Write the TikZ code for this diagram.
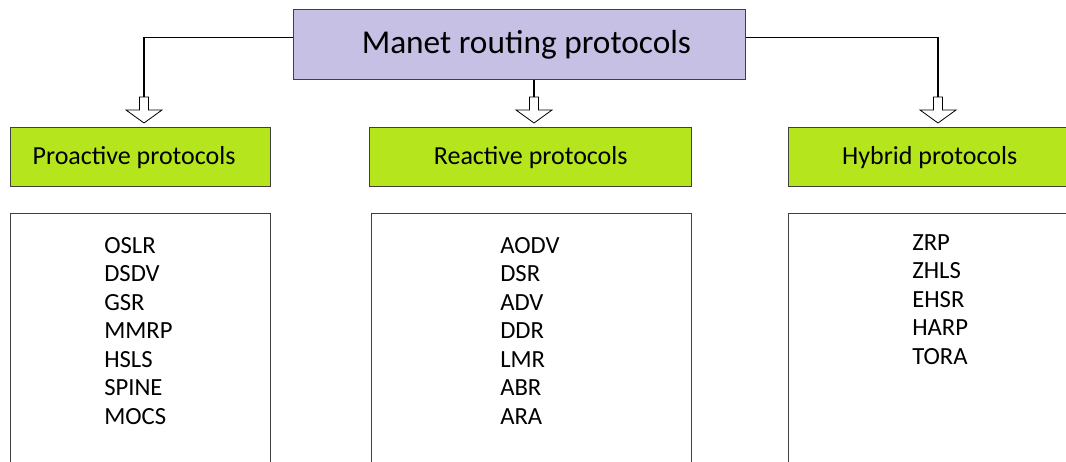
\documentclass[tikz,border=0pt]{standalone}
\usepackage{fontspec}
\setmainfont{Carlito}
\usetikzlibrary{positioning}
\definecolor{titlefill}{RGB}{198,192,228}
\definecolor{groupfill}{RGB}{181,230,29}
\definecolor{boxline}{RGB}{64,64,64}
\tikzset{
  box/.style={draw=boxline, line width=1.1pt, anchor=north west, inner sep=0pt},
  group/.style={box, fill=groupfill, minimum height=44.25pt, font=\fontsize{19.5}{22}\selectfont},
  list/.style={box, fill=white, minimum height=200pt},
  items/.style={anchor=north west, inner sep=0pt, align=left, font=\fontsize{18.5}{21.4}\selectfont},
  harrow/.pic={\draw[fill=white, line width=0.6pt] (-4.5,0) -- (4.5,0) -- (4.5,13) -- (18,13)
                -- (0,26) -- (-18,13) -- (-4.5,13) -- cycle;}
}
\begin{document}
\begin{tikzpicture}[x=0.75pt, y=-0.75pt]
  \clip (0,0) rectangle (1066,461);
  \useasboundingbox (0,0) rectangle (1066,461);
  % root
  \node[box, fill=titlefill, minimum width=339pt, minimum height=52.5pt,
        font=\fontsize{25}{28}\selectfont] (manet) at (293,9) {\hspace{10pt}Manet routing protocols};
  % groups
  \node[group, minimum width=195pt] (proactive) at (10,127) {Proactive protocols\kern10pt};
  \node[group, minimum width=241.5pt] (reactive) at (369,127) {Reactive protocols};
  \node[group, minimum width=211.5pt] (hybrid) at (788,127) {Hybrid protocols};
  % lists
  \node[list, minimum width=195pt] (prolist) at (10,213) {};
  \node[list, minimum width=240pt] (reslist) at (371,213) {};
  \node[list, minimum width=212pt] (hyblist) at (788,213) {};
  \node[items] (proitems) at (104,237) {OSLR\\DSDV\\GSR\\MMRP\\HSLS\\SPINE\\MOCS};
  \node[items] (reitems) at (500,237) {AODV\\DSR\\ADV\\DDR\\LMR\\ABR\\ARA};
  \node[items] (hyitems) at (912,234) {ZRP\\ZHLS\\EHSR\\HARP\\TORA};
  % hollow arrows
  \coordinate (parr) at (144,97);
  \coordinate (rarr) at (534,97);
  \coordinate (harr) at (938,97);
  \pic at (parr) {harrow};
  \pic at (rarr) {harrow};
  \pic at (harr) {harrow};
  \draw[line width=1pt] ([yshift=5.25pt]manet.west) -| (parr)
        (rarr |- manet.south) -- (rarr)
        ([yshift=5.25pt]manet.east) -| (harr);
\end{tikzpicture}
\end{document}
